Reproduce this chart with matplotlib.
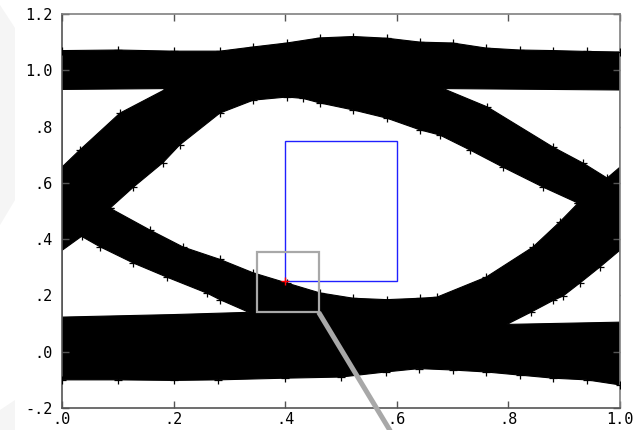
import numpy as np
import matplotlib.pyplot as plt
from matplotlib.patches import Polygon, Rectangle

# outer envelope of the eye (top of the "1" band, bottom of the "0" band)
top_x = [0.0, 0.1, 0.2, 0.283, 0.343, 0.403, 0.462, 0.522, 0.582, 0.642,
         0.70, 0.76, 0.82, 0.88, 0.94, 1.0]
top_y = [1.07, 1.072, 1.068, 1.068, 1.083, 1.097, 1.115, 1.12, 1.114, 1.10,
         1.097, 1.079, 1.072, 1.07, 1.067, 1.065]
bot_x = [0.0, 0.1, 0.2, 0.28, 0.4, 0.5, 0.58, 0.64, 0.70, 0.76, 0.82, 0.88,
         0.94, 1.0]
bot_y = [-0.10, -0.10, -0.102, -0.10, -0.094, -0.09, -0.072, -0.06, -0.065,
         -0.072, -0.083, -0.094, -0.10, -0.118]

# eye opening: upper edge left->right, lower edge right->left
eye_top_x = [0.086, 0.128, 0.181, 0.211, 0.283, 0.343, 0.403, 0.432, 0.462,
             0.522, 0.582, 0.642, 0.677, 0.731, 0.79, 0.862, 0.925]
eye_top_y = [0.51, 0.585, 0.672, 0.735, 0.848, 0.894, 0.905, 0.90, 0.884,
             0.859, 0.83, 0.788, 0.77, 0.717, 0.656, 0.585, 0.528]
eye_bot_x = [0.925, 0.892, 0.844, 0.76, 0.672, 0.642, 0.582, 0.522, 0.462,
             0.403, 0.343, 0.283, 0.217, 0.158, 0.086]
eye_bot_y = [0.528, 0.461, 0.372, 0.265, 0.194, 0.19, 0.185, 0.19, 0.209,
             0.244, 0.28, 0.328, 0.372, 0.432, 0.51]

# white gaps between the rails and the transitions
tl_x = [0.0, 0.188, 0.104, 0.032, 0.0]
tl_y = [0.932, 0.935, 0.848, 0.717, 0.656]
bl_x = [0.0, 0.0, 0.035, 0.068, 0.128, 0.188, 0.26, 0.283, 0.335, 0.2, 0.0]
bl_y = [0.123, 0.36, 0.41, 0.373, 0.315, 0.265, 0.208, 0.185, 0.14, 0.132, 0.123]
tr_x = [0.683, 1.0, 1.0, 0.977, 0.934, 0.88, 0.762, 0.683]
tr_y = [0.935, 0.93, 0.656, 0.617, 0.67, 0.727, 0.87, 0.935]
br_x = [0.797, 1.0, 1.0, 0.964, 0.928, 0.898, 0.88, 0.84, 0.797]
br_y = [0.097, 0.105, 0.361, 0.301, 0.244, 0.198, 0.182, 0.14, 0.097]

# mask window and zoom box
mask_x = [0.4, 0.6]
mask_y = [0.25, 0.75]
zoom_x = [0.35, 0.46]
zoom_y = [0.14, 0.355]
lead_x = [0.46, 0.60]
lead_y = [0.14, -0.32]
probe = (0.4, 0.25)

xticks = [0.0, 0.2, 0.4, 0.6, 0.8, 1.0]
xlabels = ['.0', '.2', '.4', '.6', '.8', '1.0']
yticks = [-0.2, 0.0, 0.2, 0.4, 0.6, 0.8, 1.0, 1.2]
ylabels = ['-.2', '.0', '.2', '.4', '.6', '.8', '1.0', '1.2']

plt.rcParams['font.family'] = ['DejaVu Sans Mono']

fig = plt.figure(figsize=(6.41, 4.30), dpi=100)

# faint watermark in the left margin
for pts in ([(0, 5), (15, 28), (15, 200), (0, 225)],
            [(0, 430), (0, 410), (15, 400), (15, 430)]):
    fig.add_artist(Polygon([(px / 641, 1 - py / 430) for px, py in pts],
                           closed=True, transform=fig.transFigure,
                           color='#f5f5f5', lw=0, zorder=0))

ax = fig.add_axes([62 / 641, 22 / 430, 558 / 641, 394 / 430])
ax.set_xlim(0, 1.0)
ax.set_ylim(-0.2, 1.2)

# dense trace cloud
ax.fill(top_x + bot_x[::-1], top_y + bot_y[::-1], color='black', lw=0.8,
        zorder=1)
for hx, hy in ((eye_top_x + eye_bot_x, eye_top_y + eye_bot_y),
               (tl_x, tl_y), (bl_x, bl_y), (tr_x, tr_y), (br_x, br_y)):
    ax.fill(hx, hy, facecolor='white', edgecolor='black', lw=0.8, zorder=2)

# stray samples along the edges
edge_x = top_x + bot_x + eye_top_x + eye_bot_x + tl_x[1:4] + bl_x[2:8] \
    + tr_x[3:7] + br_x[3:8]
edge_y = top_y + bot_y + eye_top_y + eye_bot_y + tl_y[1:4] + bl_y[2:8] \
    + tr_y[3:7] + br_y[3:8]
ax.plot(edge_x, edge_y, '+', color='black', ms=6, mew=0.9, ls='none',
        zorder=3)

ax.add_patch(Rectangle((mask_x[0], mask_y[0]), mask_x[1] - mask_x[0],
                       mask_y[1] - mask_y[0], fill=False, ec='#2020ff',
                       lw=1.0, zorder=4))
ax.add_patch(Rectangle((zoom_x[0], zoom_y[0]), zoom_x[1] - zoom_x[0],
                       zoom_y[1] - zoom_y[0], fill=False, ec='#a8a8a8',
                       lw=1.6, zorder=5))
ax.plot(lead_x, lead_y, color='#a8a8a8', lw=3.6, clip_on=False,
        solid_capstyle='butt', zorder=5)
ax.plot([probe[0]], [probe[1]], '+', color='red', ms=6, mew=1.0, zorder=6)

ax.set_xticks(xticks)
ax.set_xticklabels(xlabels)
ax.set_yticks(yticks)
ax.set_yticklabels(ylabels)
ax.tick_params(direction='in', length=5, width=1, color='#555555',
               top=True, right=True, labelsize=11, pad=3)
ax.tick_params(axis='y', pad=7)
for s in ax.spines.values():
    s.set_color('#808080')
    s.set_linewidth(1.2)
ax.spines['left'].set_color('#555555')
ax.spines['bottom'].set_color('#555555')

fig.savefig('out.png', dpi=100)
